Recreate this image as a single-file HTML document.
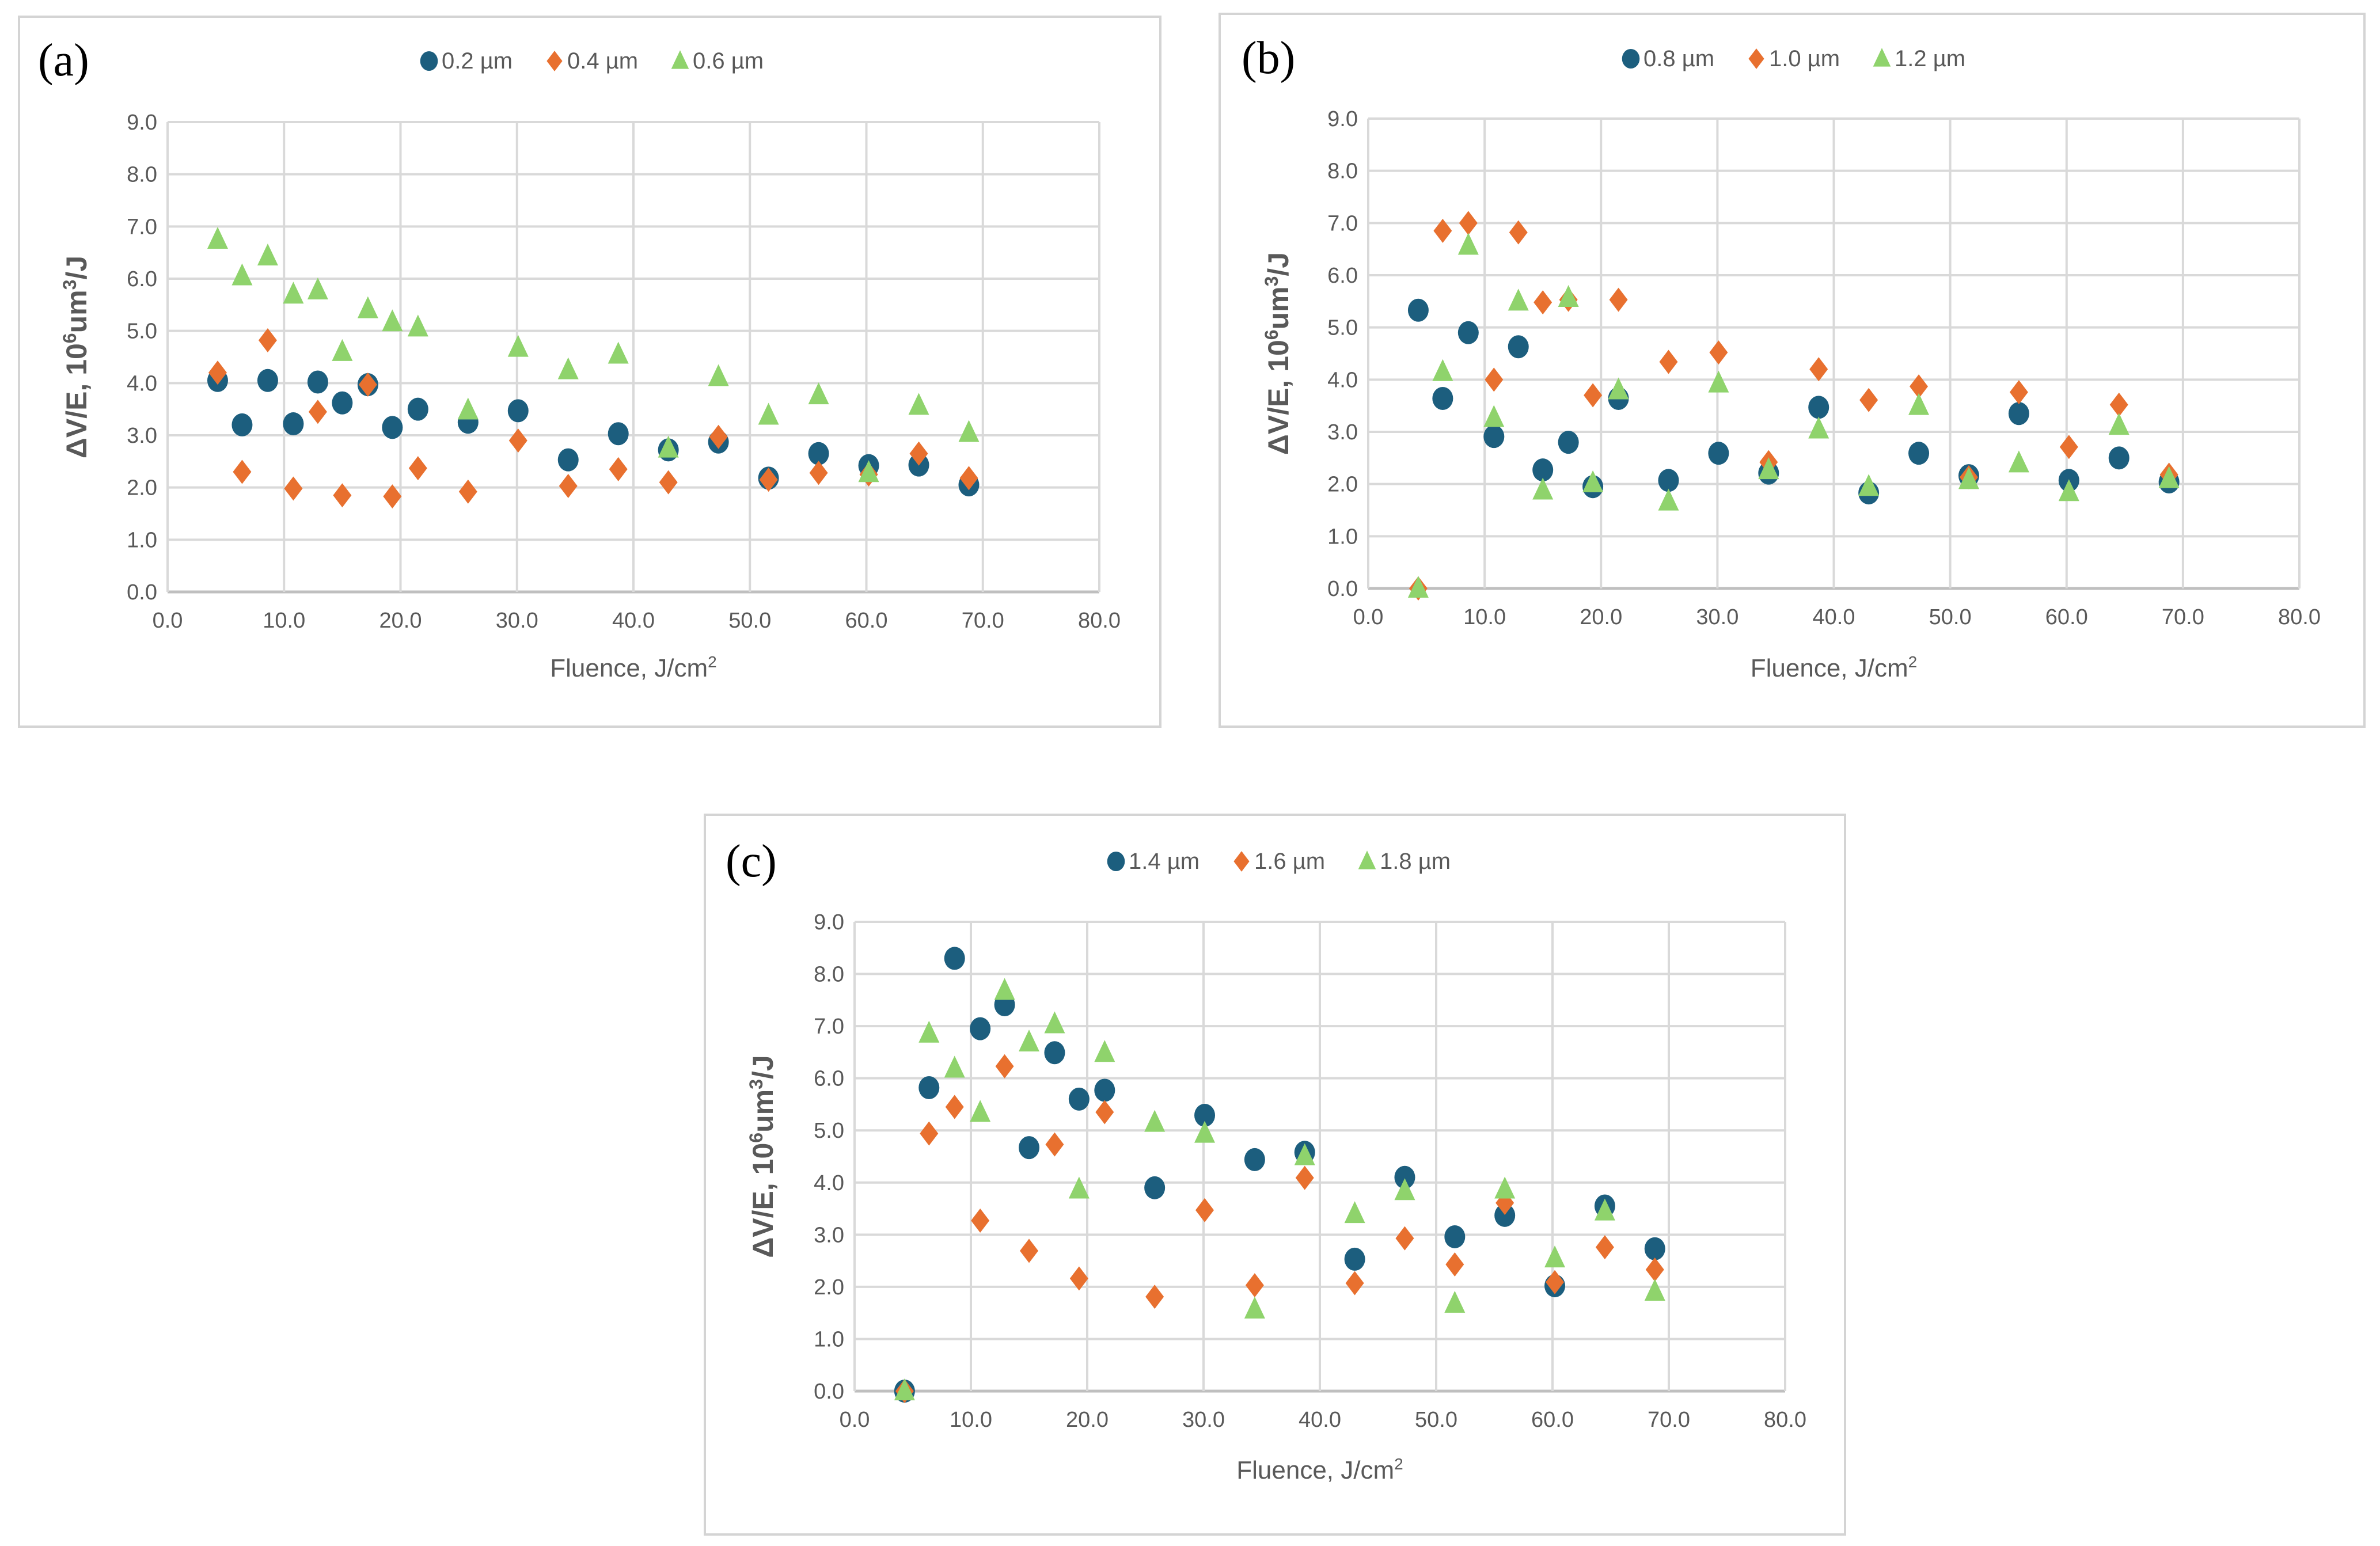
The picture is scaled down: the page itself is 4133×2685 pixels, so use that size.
<!DOCTYPE html>
<html><head><meta charset="utf-8">
<style>
html,body{margin:0;padding:0;background:#fff;}
svg text{font-family:"Liberation Sans",sans-serif;}
svg text.serif{font-family:"Liberation Serif",serif;}
</style></head>
<body>
<svg id="chart" width="4133" height="2680" viewBox="0 0 4133 2680" xmlns="http://www.w3.org/2000/svg"></svg>
<script>
const fluence = [4.3,6.4,8.6,10.8,12.9,15.0,17.2,19.3,21.5,25.8,30.1,34.4,38.7,43.0,47.3,51.6,55.9,60.2,64.5,68.8];
const xTicks = [0,10,20,30,40,50,60,70,80];
const yTicks = [0,1,2,3,4,5,6,7,8,9];
const a02 = [4.05,3.2,4.05,3.22,4.02,3.62,3.97,3.15,3.5,3.25,3.47,2.53,3.03,2.72,2.87,2.18,2.65,2.42,2.43,2.05];
const a04 = [4.2,2.3,4.82,1.98,3.45,1.85,3.97,1.83,2.37,1.92,2.9,2.03,2.35,2.1,2.97,2.15,2.28,2.25,2.65,2.18];
const a06 = [6.75,6.05,6.43,5.7,5.78,4.6,5.42,5.17,5.07,3.48,4.68,4.25,4.55,2.75,4.12,3.38,3.77,2.28,3.57,3.05];
const b08 = [5.33,3.64,4.9,2.91,4.63,2.27,2.8,1.95,3.64,2.07,2.59,2.21,3.47,1.83,2.59,2.16,3.35,2.07,2.5,2.04];
const b10 = [0.0,6.85,7.0,4.0,6.82,5.48,5.53,3.7,5.53,4.34,4.52,2.42,4.2,3.61,3.87,2.13,3.76,2.71,3.52,2.18];
const b12 = [0.0,4.15,6.57,3.27,5.5,1.88,5.57,2.02,3.8,1.67,3.93,2.27,3.05,1.95,3.5,2.08,2.4,1.85,3.12,2.1];
const c14 = [0.0,5.82,8.3,6.95,7.41,4.67,6.49,5.6,5.77,3.9,5.29,4.44,4.58,2.53,4.1,2.96,3.37,2.02,3.55,2.73];
const c16 = [0.0,4.94,5.45,3.27,6.23,2.69,4.73,2.16,5.35,1.81,3.47,2.03,4.09,2.07,2.93,2.43,3.61,2.09,2.76,2.33];
const c18 = [0.0,6.86,6.19,5.34,7.68,6.69,7.04,3.87,6.49,5.15,4.94,1.57,4.51,3.4,3.84,1.68,3.87,2.55,3.45,1.91];

const NS="http://www.w3.org/2000/svg";
const svg=document.getElementById('chart');
function mk(tag,attrs,parent){const e=document.createElementNS(NS,tag);for(const k in attrs)e.setAttribute(k,attrs[k]);(parent||svg).appendChild(e);return e;}
const BLUE="#1c5e7e",ORANGE="#e8702f",GREEN="#8fd36c";

function panel(cfg){
  const g=mk('g',{});
  
  
  const box=mk('rect',{x:cfg.box[0],y:cfg.box[1],width:cfg.box[2],height:cfg.box[3],fill:'#fff',stroke:'#d4d4d4','stroke-width':4},g);
  
  
  const [L,R,T,B]=cfg.plot;
  const xs=v=>L+(v-0)/80*(R-L);
  const ys=v=>B-(v-0)/9*(B-T);
  yTicks.forEach(t=>{
    const ln=mk('line',{x1:L,x2:R,y1:ys(t),y2:ys(t),stroke:t===0?'#bfbfbf':'#d9d9d9','stroke-width':t===0?5:4},g);
    
    
    const tx=mk('text',{x:L-18,y:ys(t)+13,'text-anchor':'end','font-size':38,fill:'#595959'},g);
    tx.textContent=t.toFixed(1);
    
    
  });
  xTicks.forEach(t=>{
    const ln=mk('line',{x1:xs(t),x2:xs(t),y1:T,y2:B,stroke:'#d9d9d9','stroke-width':4},g);
    
    
    const tx=mk('text',{x:xs(t),y:B+62,'text-anchor':'middle','font-size':38,fill:'#595959'},g);
    tx.textContent=t.toFixed(1);
    
    
  });
  const xt=mk('text',{x:(L+R)/2,y:cfg.xTitleY,'text-anchor':'middle','font-size':44,fill:'#595959'},g);
  xt.innerHTML='Fluence, J/cm<tspan font-size="28" dy="-16">2</tspan>';
  
  
  const ycx=cfg.yTitleX, ycy=(T+B)/2;
  const yt=mk('text',{x:ycx,y:ycy,'text-anchor':'middle','font-size':50,'font-weight':'bold',fill:'#595959',transform:`rotate(-90 ${ycx} ${ycy})`},g);
  yt.innerHTML='ΔV/E, 10<tspan font-size="32" dy="-18">6</tspan><tspan dy="18">um</tspan><tspan font-size="32" dy="-18">3</tspan><tspan dy="18">/J</tspan>';
  
  
  const pl=mk('text',{x:cfg.label[0],y:cfg.label[1],'font-size':80,fill:'#000','class':'serif'},g);
  pl.textContent='('+cfg.id+')';
  
  
  const shapes=['circle','diamond','triangle'],cols=[BLUE,ORANGE,GREEN];
  function marker(shape,cx,cy,col,par,s){
    s=s||1;
    if(shape==='circle') return mk('ellipse',{cx:cx,cy:cy,rx:18*s,ry:20*s,fill:col},par);
    if(shape==='diamond') return mk('polygon',{points:`${cx},${cy-21*s} ${cx+16*s},${cy} ${cx},${cy+21*s} ${cx-16*s},${cy}`,fill:col},par);
    return mk('polygon',{points:`${cx},${cy-22*s} ${cx+18*s},${cy+16*s} ${cx-18*s},${cy+16*s}`,fill:col},par);
  }
  cfg.series.forEach((ser,si)=>{
    const sg=mk('g',{},g);
    
    
    ser.forEach((v,i)=>{
      const m=marker(shapes[si],xs(fluence[i]),ys(v),cols[si],sg);
      
      
    });
  });
  let lx=cfg.legend[0], ly=cfg.legend[1];
  cfg.names.forEach((n,i)=>{
    const lg=mk('g',{},g);
    
    
    marker(shapes[i],lx,ly,cols[i],lg,0.85);
    const t=mk('text',{x:lx+22,y:ly+13,'font-size':40,fill:'#595959'},lg);
    t.textContent=n;
    lx+=218;
  });
}
panel({id:'a',box:[33,29,1982,1233],plot:[291,1909,212,1028],xTitleY:1175,yTitleX:150,label:[66,131],legend:[745,106],
  series:[a02,a04,a06],names:['0.2 µm','0.4 µm','0.6 µm']});
panel({id:'b',box:[2118,24,1988,1238],plot:[2376,3993,206,1022],xTitleY:1175,yTitleX:2237,label:[2156,127],legend:[2832,102],
  series:[b08,b10,b12],names:['0.8 µm','1.0 µm','1.2 µm']});
panel({id:'c',box:[1224,1415,1980,1250],plot:[1484,3100,1601,2416],xTitleY:2568,yTitleX:1342,label:[1260,1522],legend:[1938,1496],
  series:[c14,c16,c18],names:['1.4 µm','1.6 µm','1.8 µm']});
</script>
</body></html>
